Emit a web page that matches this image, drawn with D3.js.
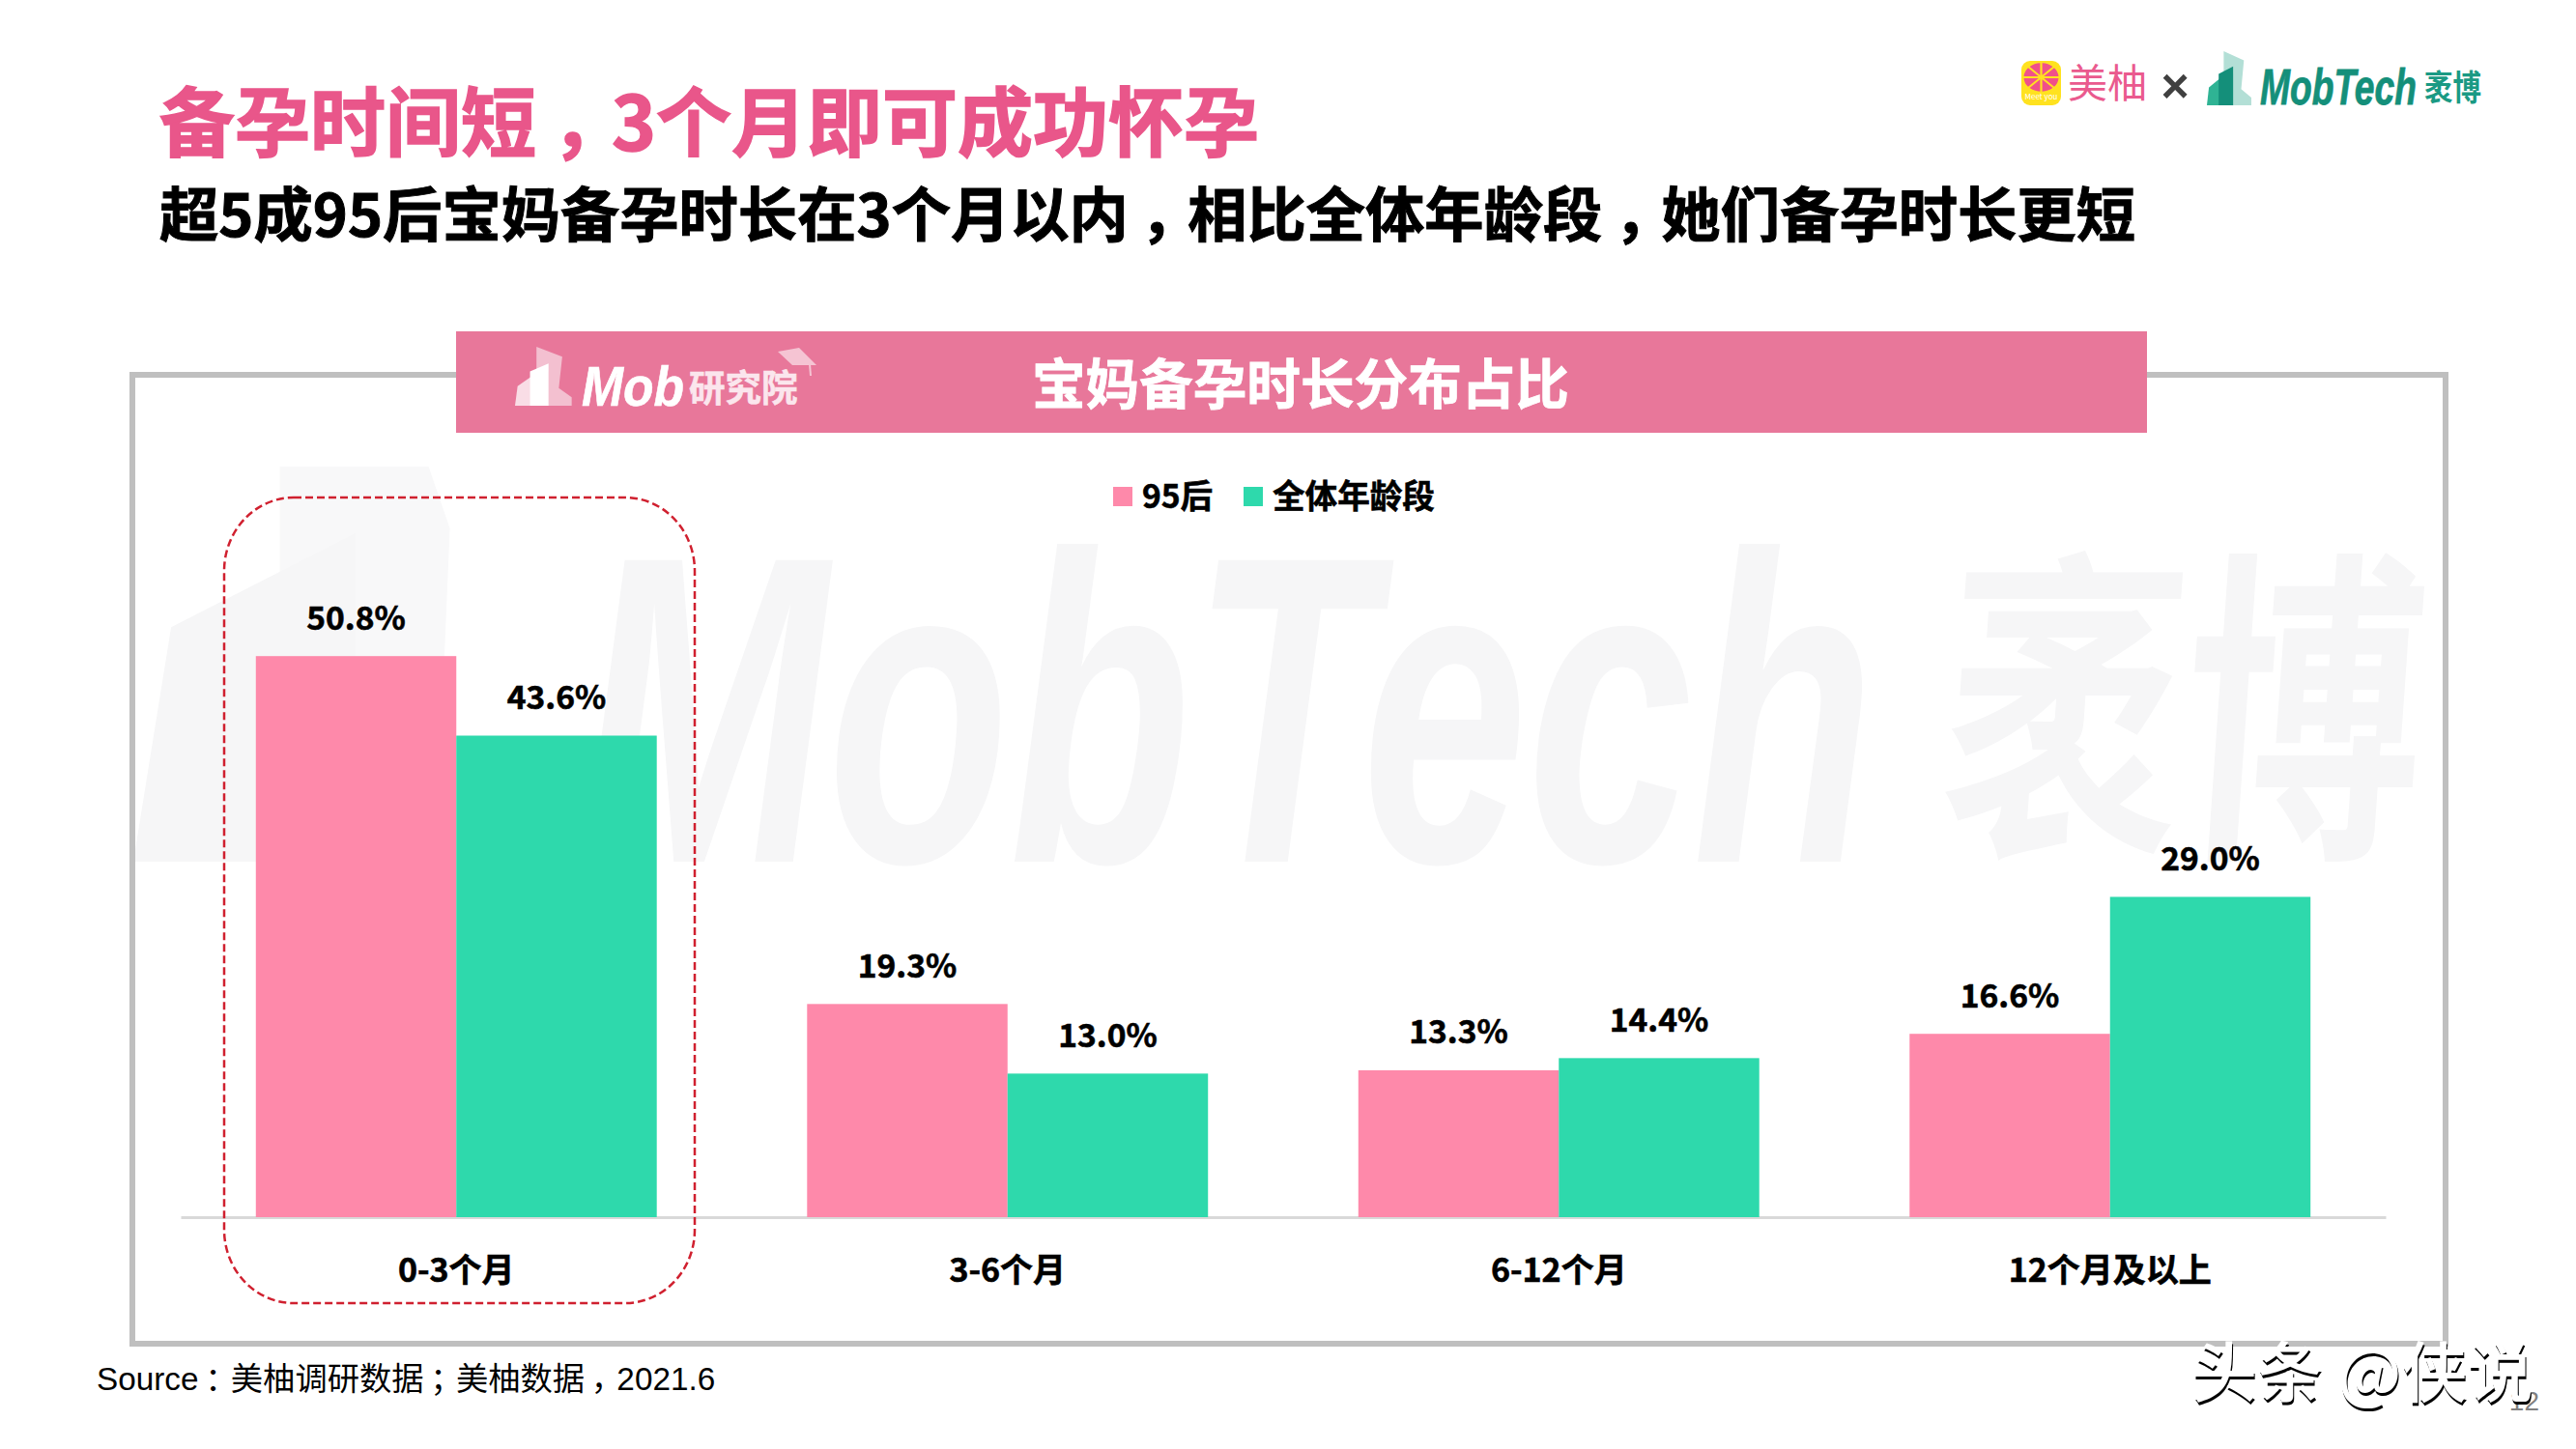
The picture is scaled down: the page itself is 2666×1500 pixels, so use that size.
<!DOCTYPE html>
<html>
<head>
<meta charset="utf-8">
<script src="https://cdn.jsdelivr.net/npm/d3@7"></script>
<style>
html, body { margin: 0; padding: 0; background: #fff; }
svg { display: block; }
text { font-family: "Noto Sans CJK SC", sans-serif; }
</style>
</head>
<body>
<svg id="chart" width="2666" height="1500"></svg>
<script>
var categories = ["0-3个月", "3-6个月", "6-12个月", "12个月及以上"];
var seriesNames = ["95后", "全体年龄段"];
var seriesColors = ["#fe89aa", "#2ed9ac"];
var values95 = [50.8, 19.3, 13.3, 16.6];
var valuesAll = [43.6, 13.0, 14.4, 29.0];

var titleText = "备孕时间短，3个月即可成功怀孕";
var subtitleText = "超5成95后宝妈备孕时长在3个月以内，相比全体年龄段，她们备孕时长更短";
var chartTitleText = "宝妈备孕时长分布占比";
var sourceText = "Source：美柚调研数据；美柚数据，2021.6";

var svg = d3.select("#chart");

var addText = function(parent, str, x, y, size, fill, weight, anchor){
	return parent.append("text")
		.attr("x", x)
		.attr("y", y)
		.attr("font-size", size)
		.attr("font-weight", weight || 700)
		.attr("text-anchor", anchor || "start")
		.attr("fill", fill)
		.text(str);
};

// the reference font centres its full width punctuation, so nudge each mark to the right
var addPunctText = function(parent, str, x, y, size, fill, weight){
	var t = addText(parent, "", x, y, size, fill, weight);
	str.split(/([，：；])/).forEach(function(part, i){
		var span = t.append("tspan").text(part);
		if(i % 2 === 1){
			span.attr("dx", "0.2em");
		}else if(i > 0){
			span.attr("dx", "-0.2em");
		}
	});
	return t;
};

var thicken = function(sel, width){
	return sel.attr("stroke", sel.attr("fill")).attr("stroke-width", width);
};

var squeeze = function(sel, length){
	return sel.attr("textLength", length).attr("lengthAdjust", "spacingAndGlyphs");
};

// the MobTech building shape, drawn in a 135x160 box
var buildingPaths = [
	"M50,0L110,27L102,112L132,137L132,160L50,160Z",
	"M0,160L6,107L55,67L55,160Z",
	"M35,67L78,45L78,160L35,160Z"
];
var watermarkPaths = [
	"M62,0L125,0L134,25L128,160L62,160Z",
	"M0,160L16,65L94,27L94,160Z"
];
var drawBuilding = function(paths, x, y, w, h, fills){
	svg.append("g")
		.attr("transform", "translate(" + x + "," + y + ") scale(" + (w / 135) + "," + (h / 160) + ")")
		.selectAll("path")
		.data(paths)
		.join("path")
		.attr("d", function(d){ return d; })
		.attr("fill", function(d, i){ return fills[i]; });
};

// background watermark
drawBuilding(watermarkPaths, 138, 483, 330, 409, ["#f8f8f9", "#f6f6f7"]);
squeeze(addText(svg, "MobTech", 600, 892, 454, "#f6f6f7", 700), 1340)
	.style("font-family", "'Liberation Sans'")
	.style("font-style", "italic");
addText(svg, "袤博", 0, 0, 340, "#f6f6f7", 700)
	.attr("transform", "translate(2004,862) skewX(-4) scale(0.73,1)");

// headings
thicken(addPunctText(svg, titleText, 165, 156, 78, "#e9568a"), 1.5);
thicken(addPunctText(svg, subtitleText, 165, 245, 61.3, "#000000"), 1);

// top right logos
svg.append("rect").attr("x", 2092).attr("y", 63).attr("width", 41).attr("height", 46).attr("rx", 9).attr("fill", "#ffe21f");
var petal = d3.arc().innerRadius(3).outerRadius(18).padAngle(0.12);
svg.append("g")
	.attr("transform", "translate(2112.5,80) scale(1,0.82)")
	.selectAll("path")
	.data(d3.pie().value(1)(d3.range(8)))
	.join("path")
	.attr("d", petal)
	.attr("fill", "#f0508a");
addText(svg, "Meet you", 2112.5, 103, 8, "#ffffff", 400, "middle");
addText(svg, "美柚", 2140, 101, 41, "#ea5a8e", 400);
addText(svg, "×", 2251, 106, 50, "#404040", 700, "middle").style("font-family", "'Liberation Sans'");
drawBuilding(buildingPaths, 2284, 53, 47, 56, ["#b3dfd6", "#2fb394", "#148f7a"]);
squeeze(thicken(addText(svg, "MobTech", 2339, 108, 52, "#148f7a", 700), 0.8), 162)
	.style("font-family", "'Liberation Sans'")
	.style("font-style", "italic");
squeeze(addText(svg, "袤博", 2509, 104, 36, "#1a9a84", 700), 59);

// panel and its banner
svg.append("rect")
	.attr("x", 137).attr("y", 388)
	.attr("width", 2394).attr("height", 1003)
	.attr("fill", "none")
	.attr("stroke", "#bfbfbf")
	.attr("stroke-width", 6);
svg.append("rect").attr("x", 472).attr("y", 343).attr("width", 1750).attr("height", 105).attr("fill", "#e8779a");
thicken(addText(svg, chartTitleText, 1068, 418, 55.6, "#ffffff"), 0.8);

drawBuilding(buildingPaths, 533, 359, 60, 61, ["#f3c0d0", "#f9dde6", "#ffffff"]);
squeeze(thicken(addText(svg, "Mob", 602, 420, 58, "#ffffff", 700), 0.6), 106)
	.style("font-family", "'Liberation Sans'")
	.style("font-style", "italic");
thicken(addText(svg, "研究院", 713, 415, 37.5, "#fbe6ed", 700), 0.6);
svg.append("path").attr("d", "M805,364L827,360L845,378L820,378Z").attr("fill", "#f5c4d3");
svg.append("path").attr("d", "M838,377L839,389").attr("stroke", "#f5c4d3").attr("stroke-width", 2);

// scales
var x0 = d3.scaleBand()
	.domain(categories)
	.range([187, 2469])
	.paddingInner(0.2727)
	.paddingOuter(0.13635);
var x1 = d3.scaleBand()
	.domain(seriesNames)
	.range([0, x0.bandwidth()]);
var y = d3.scaleLinear()
	.domain([0, 60])
	.range([1260, 574]);
var legendX = d3.scaleOrdinal().domain(seriesNames).range([1152, 1287]);
var formatValue = function(v){ return d3.format(".1f")(v) + "%"; };

// axis
var axis = svg.append("g")
	.attr("transform", "translate(0,1260)")
	.call(d3.axisBottom(x0).tickSize(0).tickPadding(43));
axis.select(".domain").attr("stroke", "#d9d9d9").attr("stroke-width", 3);
axis.selectAll("text")
	.attr("font-size", 34)
	.attr("font-weight", 700)
	.attr("fill", "#000000")
	.attr("stroke", "#000000")
	.attr("stroke-width", 0.6)
	.style("font-family", "'Noto Sans CJK SC'");

// bars
var groups = svg.selectAll("g.group")
	.data(categories)
	.join("g")
	.attr("class", "group")
	.attr("transform", function(d){ return "translate(" + x0(d) + ",0)"; });
var barsOf = function(d, i){
	return [
		{name: seriesNames[0], color: seriesColors[0], value: values95[i]},
		{name: seriesNames[1], color: seriesColors[1], value: valuesAll[i]}
	];
};
groups.selectAll("rect")
	.data(barsOf)
	.join("rect")
	.attr("x", function(d){ return x1(d.name); })
	.attr("y", function(d){ return y(d.value); })
	.attr("width", x1.bandwidth())
	.attr("height", function(d){ return y(0) - y(d.value); })
	.attr("fill", function(d){ return d.color; });
groups.selectAll("text")
	.data(barsOf)
	.join("text")
	.attr("x", function(d){ return x1(d.name) + x1.bandwidth() / 2; })
	.attr("y", function(d){ return y(d.value) - 27.5; })
	.attr("text-anchor", "middle")
	.attr("font-size", 33.5)
	.attr("font-weight", 700)
	.attr("fill", "#000000")
	.attr("stroke", "#000000")
	.attr("stroke-width", 0.6)
	.text(function(d){ return formatValue(d.value); });

// highlight around the first group
svg.append("rect")
	.attr("x", 232).attr("y", 515)
	.attr("width", 487).attr("height", 834)
	.attr("rx", 72).attr("ry", 76)
	.attr("fill", "none")
	.attr("stroke", "#d0202f")
	.attr("stroke-width", 2.5)
	.attr("stroke-dasharray", "8 4");

// legend
var legend = svg.selectAll("g.legend")
	.data(seriesNames)
	.join("g")
	.attr("class", "legend")
	.attr("transform", function(d){ return "translate(" + legendX(d) + ",504)"; });
legend.append("rect")
	.attr("width", 20)
	.attr("height", 20)
	.attr("fill", function(d, i){ return seriesColors[i]; });
legend.append("text")
	.attr("x", 30)
	.attr("y", 22)
	.attr("font-size", 33.6)
	.attr("font-weight", 700)
	.attr("fill", "#000000")
	.attr("stroke", "#000000")
	.attr("stroke-width", 0.6)
	.text(function(d){ return d; });

// source
addPunctText(svg, sourceText, 100, 1439, 33.3, "#000000", 400)
	.style("font-family", "'Liberation Sans','Noto Sans CJK SC'");

// page number, then the platform watermark over it
addText(svg, "12", 2628, 1460, 28, "#808080", 400, "end").style("font-family", "'Liberation Sans'");
addText(svg, "头条 @侠说", 2268, 1446, 68, "#ffffff", 500)
	.style("filter", "drop-shadow(1px 3px 0 #000000)");
</script>
</body>
</html>
